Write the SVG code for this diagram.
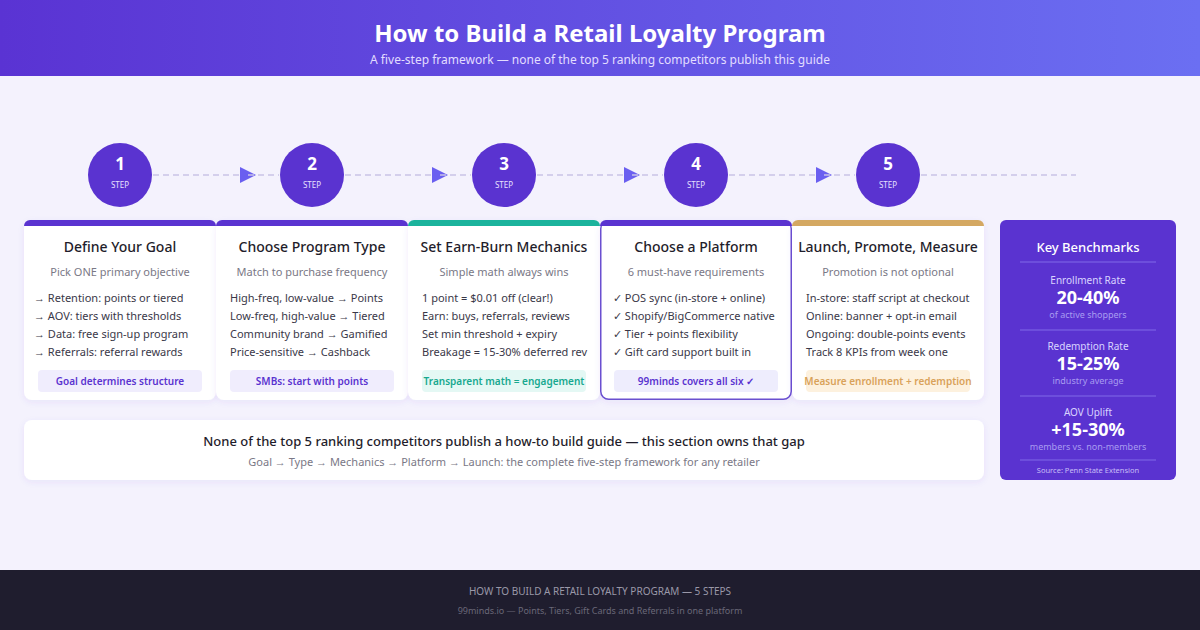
<svg xmlns="http://www.w3.org/2000/svg" width="1200" height="630" viewBox="0 0 1200 630">
<defs>
<linearGradient id="hg" x1="0" y1="0" x2="1" y2="0"><stop offset="0" stop-color="#5a33d3"/><stop offset="1" stop-color="#6b6ff2"/></linearGradient>
<filter id="sh" x="-10%" y="-10%" width="120%" height="130%"><feDropShadow dx="0" dy="2" stdDeviation="3" flood-color="#5b3fd0" flood-opacity="0.08"/></filter>
<marker id="ar" viewBox="0 0 10 10" refX="5" refY="5" markerWidth="16" markerHeight="16" markerUnits="userSpaceOnUse" orient="auto"><path d="M0,0 L10,5 L0,10 Z" fill="#6a5ff0"/></marker>
</defs>
<style>
text{font-family:"Noto Sans","Open Sans",sans-serif}
.card{fill:#fff;filter:url(#sh)}
.t{font-size:14px;font-weight:500;fill:#1f1d2b;text-anchor:middle}
.s{font-size:11px;fill:#7a7886;text-anchor:middle}
.b{font-size:11px;fill:#3a3848}
.pill{font-size:10px;font-weight:600;text-anchor:middle}
.num{font-size:17px;font-weight:700;fill:#fff;text-anchor:middle}
.stp{font-size:8px;fill:#e6e0ff;text-anchor:middle}
.bl{font-size:10px;fill:#d9d3ff;text-anchor:middle}
.bv{font-size:18px;font-weight:700;fill:#fff;text-anchor:middle}
.bs{font-size:9px;fill:#a99cf0;text-anchor:middle}
</style>
<rect width="1200" height="630" fill="#f4f2fd"/>
<rect width="1200" height="76" fill="url(#hg)"/>
<text x="600" y="42" text-anchor="middle" font-size="24" font-weight="700" fill="#fff">How to Build a Retail Loyalty Program</text>
<text x="600" y="64" text-anchor="middle" font-size="12" fill="#e2ddff">A five-step framework — none of the top 5 ranking competitors publish this guide</text>

<g id="connectors" stroke="#c9c4e6" stroke-width="1.5" stroke-dasharray="6 4" fill="none">
<line x1="153" y1="175" x2="248" y2="175" marker-end="url(#ar)"/>
<line x1="248" y1="175" x2="279" y2="175"/>
<line x1="345" y1="175" x2="440" y2="175" marker-end="url(#ar)"/>
<line x1="440" y1="175" x2="471" y2="175"/>
<line x1="537" y1="175" x2="632" y2="175" marker-end="url(#ar)"/>
<line x1="632" y1="175" x2="663" y2="175"/>
<line x1="729" y1="175" x2="824" y2="175" marker-end="url(#ar)"/>
<line x1="824" y1="175" x2="855" y2="175"/>
<line x1="921" y1="175" x2="1076" y2="175"/>
</g>

<g id="step1">
<circle cx="120" cy="175" r="32" fill="#5a33d0"/><text x="120" y="170" class="num">1</text><text x="120" y="188" class="stp">STEP</text>
<rect x="24" y="220" width="192" height="180" rx="8" class="card"/>
<path d="M24,226 a6,6 0 0 1 6,-6 h180 a6,6 0 0 1 6,6 z" fill="#5a33d0"/>
<text x="120" y="252" class="t">Define Your Goal</text>
<text x="120" y="276" class="s">Pick ONE primary objective</text>
<text x="34" y="302" class="b">→ Retention: points or tiered</text>
<text x="34" y="320" class="b">→ AOV: tiers with thresholds</text>
<text x="34" y="338" class="b">→ Data: free sign-up program</text>
<text x="34" y="356" class="b">→ Referrals: referral rewards</text>
<rect x="38" y="370" width="164" height="22" rx="4" fill="#f0edfd"/>
<text x="120" y="385" class="pill" fill="#5a33d0">Goal determines structure</text>
</g>
<g id="step2">
<circle cx="312" cy="175" r="32" fill="#5a33d0"/><text x="312" y="170" class="num">2</text><text x="312" y="188" class="stp">STEP</text>
<rect x="216" y="220" width="192" height="180" rx="8" class="card"/>
<path d="M216,226 a6,6 0 0 1 6,-6 h180 a6,6 0 0 1 6,6 z" fill="#5a33d0"/>
<text x="312" y="252" class="t">Choose Program Type</text>
<text x="312" y="276" class="s">Match to purchase frequency</text>
<text x="230" y="302" class="b">High-freq, low-value → Points</text>
<text x="230" y="320" class="b">Low-freq, high-value → Tiered</text>
<text x="230" y="338" class="b">Community brand → Gamified</text>
<text x="230" y="356" class="b">Price-sensitive → Cashback</text>
<rect x="230" y="370" width="164" height="22" rx="4" fill="#f0edfd"/>
<text x="312" y="385" class="pill" fill="#5a33d0">SMBs: start with points</text>
</g>
<g id="step3">
<circle cx="504" cy="175" r="32" fill="#5a33d0"/><text x="504" y="170" class="num">3</text><text x="504" y="188" class="stp">STEP</text>
<rect x="408" y="220" width="192" height="180" rx="8" class="card"/>
<path d="M408,226 a6,6 0 0 1 6,-6 h180 a6,6 0 0 1 6,6 z" fill="#1bb39c"/>
<text x="504" y="252" class="t">Set Earn-Burn Mechanics</text>
<text x="504" y="276" class="s">Simple math always wins</text>
<text x="422" y="302" class="b">1 point = $0.01 off (clear!)</text>
<text x="422" y="320" class="b">Earn: buys, referrals, reviews</text>
<text x="422" y="338" class="b">Set min threshold + expiry</text>
<text x="422" y="356" class="b">Breakage = 15-30% deferred rev</text>
<rect x="422" y="370" width="164" height="22" rx="4" fill="#e4f8f4"/>
<text x="504" y="385" class="pill" fill="#17a88f">Transparent math = engagement</text>
</g>
<g id="step4">
<circle cx="696" cy="175" r="32" fill="#5a33d0"/><text x="696" y="170" class="num">4</text><text x="696" y="188" class="stp">STEP</text>
<rect x="600.75" y="220.75" width="190.5" height="178.5" rx="8" class="card" stroke="#6a4fd0" stroke-width="1.5"/>
<path d="M600,226 a6,6 0 0 1 6,-6 h180 a6,6 0 0 1 6,6 z" fill="#5a33d0"/>
<text x="696" y="252" class="t">Choose a Platform</text>
<text x="696" y="276" class="s">6 must-have requirements</text>
<text x="613" y="302" class="b">✓ POS sync (in-store + online)</text>
<text x="613" y="320" class="b">✓ Shopify/BigCommerce native</text>
<text x="613" y="338" class="b">✓ Tier + points flexibility</text>
<text x="613" y="356" class="b">✓ Gift card support built in</text>
<rect x="614" y="370" width="164" height="22" rx="4" fill="#eeedfd"/>
<text x="696" y="385" class="pill" fill="#5a33d0">99minds covers all six ✓</text>
</g>
<g id="step5">
<circle cx="888" cy="175" r="32" fill="#5a33d0"/><text x="888" y="170" class="num">5</text><text x="888" y="188" class="stp">STEP</text>
<rect x="792" y="220" width="192" height="180" rx="8" class="card"/>
<path d="M792,226 a6,6 0 0 1 6,-6 h180 a6,6 0 0 1 6,6 z" fill="#d4a862"/>
<text x="888" y="252" class="t">Launch, Promote, Measure</text>
<text x="888" y="276" class="s">Promotion is not optional</text>
<text x="806" y="302" class="b">In-store: staff script at checkout</text>
<text x="806" y="320" class="b">Online: banner + opt-in email</text>
<text x="806" y="338" class="b">Ongoing: double-points events</text>
<text x="806" y="356" class="b">Track 8 KPIs from week one</text>
<rect x="806" y="370" width="164" height="22" rx="4" fill="#fdf1de"/>
<text x="888" y="385" class="pill" fill="#d9a25a">Measure enrollment + redemption</text>
</g>

<g id="summary">
<rect x="24" y="420" width="960" height="60" rx="8" class="card"/>
<text x="504" y="446" text-anchor="middle" font-size="13" font-weight="500" fill="#1f1d2b">None of the top 5 ranking competitors publish a how-to build guide — this section owns that gap</text>
<text x="504" y="466" text-anchor="middle" font-size="11" fill="#7a7886">Goal → Type → Mechanics → Platform → Launch: the complete five-step framework for any retailer</text>
</g>

<g id="benchmarks">
<rect x="1000" y="220" width="176" height="260" rx="6" fill="#5a33d0"/>
<text x="1088" y="252" text-anchor="middle" font-size="13" font-weight="500" fill="#fff">Key Benchmarks</text>
<line x1="1020" y1="262" x2="1156" y2="262" stroke="#7458e0" stroke-width="1.5"/>
<text x="1088" y="284" class="bl">Enrollment Rate</text>
<text x="1088" y="304" class="bv">20-40%</text>
<text x="1088" y="318" class="bs">of active shoppers</text>
<line x1="1020" y1="330" x2="1156" y2="330" stroke="#7458e0" stroke-width="1.5"/>
<text x="1088" y="350" class="bl">Redemption Rate</text>
<text x="1088" y="370" class="bv">15-25%</text>
<text x="1088" y="384" class="bs">industry average</text>
<line x1="1020" y1="396" x2="1156" y2="396" stroke="#7458e0" stroke-width="1.5"/>
<text x="1088" y="416" class="bl">AOV Uplift</text>
<text x="1088" y="436" class="bv">+15-30%</text>
<text x="1088" y="450" class="bs">members vs. non-members</text>
<line x1="1020" y1="460" x2="1156" y2="460" stroke="#7458e0" stroke-width="1.5"/>
<text x="1088" y="473" text-anchor="middle" font-size="7.5" fill="#c7bdf7">Source: Penn State Extension</text>
</g>

<rect y="570" width="1200" height="60" fill="#1f1d2e"/>
<text x="600" y="595" text-anchor="middle" font-size="10" fill="#9a98a8">HOW TO BUILD A RETAIL LOYALTY PROGRAM — 5 STEPS</text>
<text x="600" y="614" text-anchor="middle" font-size="9" fill="#6a6878">99minds.io — Points, Tiers, Gift Cards and Referrals in one platform</text>
</svg>
